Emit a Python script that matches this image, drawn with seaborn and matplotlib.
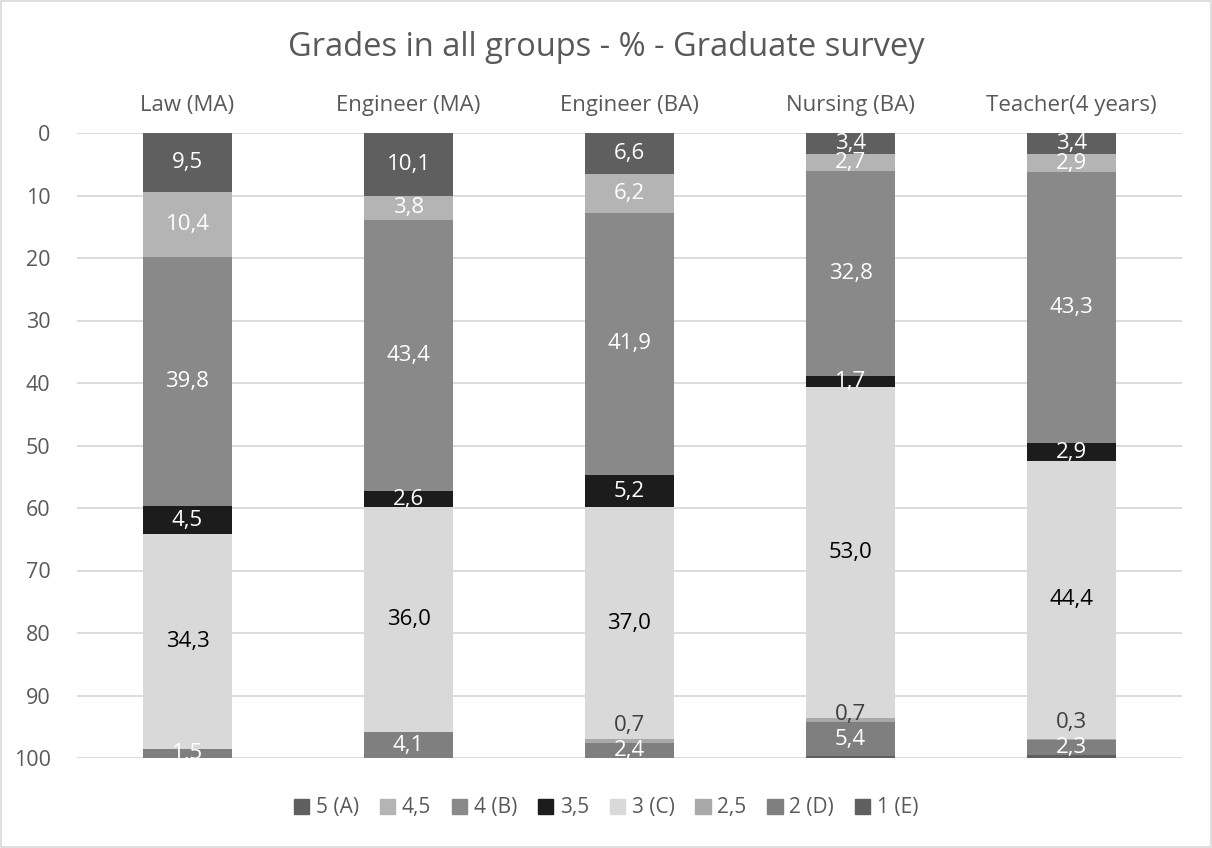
import numpy as np
import matplotlib
matplotlib.use("Agg")
import matplotlib.pyplot as plt
import seaborn as sns

groups = ['Law (MA)', 'Engineer (MA)', 'Engineer (BA)', 'Nursing (BA)', 'Teacher(4 years)']
grades = ['5 (A)', '4,5', '4 (B)', '3,5', '3 (C)', '2,5', '2 (D)', '1 (E)']

g_5 = [9.5, 10.1, 6.6, 3.4, 3.4]
g_45 = [10.4, 3.8, 6.2, 2.7, 2.9]
g_4 = [39.8, 43.4, 41.9, 32.8, 43.3]
g_35 = [4.5, 2.6, 5.2, 1.7, 2.9]
g_3 = [34.3, 36.0, 37.0, 53.0, 44.4]
g_25 = [0.0, 0.0, 0.7, 0.7, 0.3]
g_2 = [1.5, 4.1, 2.4, 5.4, 2.3]
g_1 = [0.0, 0.0, 0.0, 0.3, 0.5]

series = [g_5, g_45, g_4, g_35, g_3, g_25, g_2, g_1]
colors = ['#5f5f5f', '#b4b4b4', '#898989', '#1c1c1c', '#d9d9d9', '#a9a9a9', '#7f7f7f', '#5f5f5f']
label_colors = ['white', 'white', 'white', 'white', 'black', '#404040', 'white', None]

sns.set_theme(style='white')
plt.rcParams['font.family'] = ['Open Sans', 'DejaVu Sans']

fig = plt.figure(figsize=(12.12, 8.48), dpi=100)
ax = fig.add_axes([77 / 1212, 1 - 758 / 848, 1105 / 1212, 625 / 848])

bottom = np.zeros(len(groups))
centers = []
for name, vals, col in zip(grades, series, colors):
    vals = np.array(vals)
    sns.barplot(x=groups, y=vals, bottom=bottom, color=col, width=0.4,
                saturation=1, linewidth=0, ax=ax, label=name)
    centers.append(bottom + vals / 2)
    bottom = bottom + vals

handles = [plt.Rectangle((0, 0), 1, 1, color=c) for c in colors]

# value labels (1 (E) not labelled in the original)
for k, (vals, lc) in enumerate(zip(series, label_colors)):
    if lc is None:
        continue
    for i, v in enumerate(vals):
        if v <= 0:
            continue
        y = centers[k][i]
        if grades[k] == '2,5':
            y = min(y, centers[k + 1][i] - 4.0)
        ax.text(i, y, f'{v:.1f}'.replace('.', ','), ha='center', va='center',
                fontsize=16, color=lc, clip_on=True)

ax.set_ylim(100, 0)
ax.set_xlim(-0.5, len(groups) - 0.5)
ax.set_yticks(range(0, 101, 10))
ax.yaxis.grid(True, color='#d9d9d9', linewidth=1.3)
ax.set_axisbelow(True)
ax.xaxis.tick_top()
ax.tick_params(axis='x', length=0, pad=12, labelsize=16, labelcolor='#595959')
ax.tick_params(axis='y', length=0, pad=19, labelsize=15.5, labelcolor='#595959')
for s in ax.spines.values():
    s.set_visible(False)
ax.set_xlabel('')
ax.set_ylabel('')

if ax.get_legend():
    ax.get_legend().remove()
fig.legend(handles, grades, loc='center', bbox_to_anchor=(0.5, 1 - 808 / 848),
           ncol=8, frameon=False, fontsize=15, handlelength=0.75, handleheight=0.75,
           handletextpad=0.3, columnspacing=1.0, labelcolor='#595959')

fig.text(0.5, 1 - 48 / 848, 'Grades in all groups - % - Graduate survey',
         ha='center', va='center', fontsize=23.5, color='#595959')

fig.patches.append(plt.Rectangle((0.001, 0.001), 0.998, 0.998, transform=fig.transFigure,
                                 fill=False, edgecolor='#d9d9d9', linewidth=1.2))

fig.savefig('out.png', dpi=100, facecolor='white')
